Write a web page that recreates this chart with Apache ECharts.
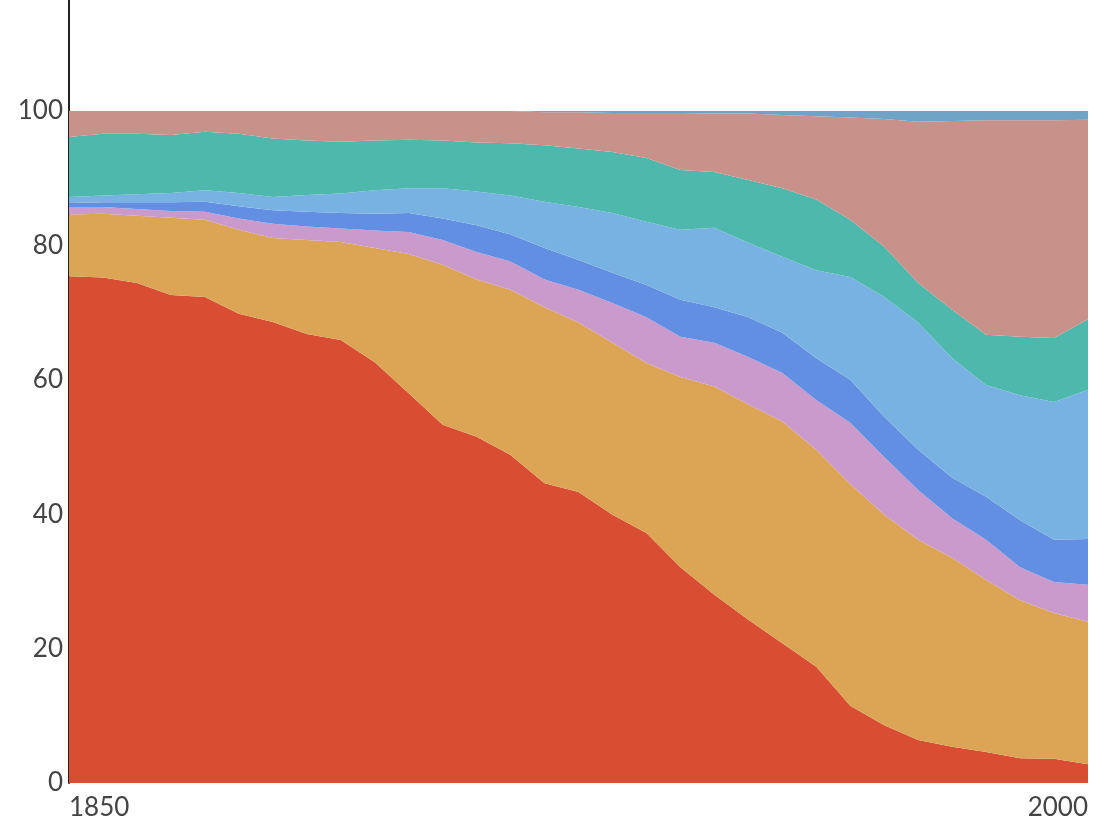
<!DOCTYPE html>
<html>
<head>
<meta charset="utf-8">
<script src="https://cdn.jsdelivr.net/npm/echarts@6/dist/echarts.min.js"></script>
<style>html,body{margin:0;padding:0;background:#fff;}#chart{width:1107px;height:821px;}</style>
</head>
<body>
<div id="chart"></div>
<script>
const years = ['1850','1855','1860','1865','1870','1875','1880','1885','1890','1895','1900','1905','1910','1915','1920','1925','1930','1935','1940','1945','1950','1955','1960','1965','1970','1975','1980','1985','1990','1995','2000'];

const layer1 = [75.4,75.2,74.4,72.6,72.3,69.8,68.6,66.8,65.9,62.6,58.0,53.3,51.5,48.8,44.6,43.3,39.9,37.2,32.1,28.0,24.3,20.8,17.3,11.5,8.6,6.4,5.4,4.6,3.7,3.6,2.8];
const layer2 = [9.2,9.5,10.0,11.5,11.5,12.5,12.5,14.0,14.6,17.0,20.7,23.8,23.4,24.6,26.2,25.2,25.6,25.3,28.3,31.0,32.0,33.0,32.3,33.0,31.3,29.8,28.1,25.6,23.5,21.7,21.2];
const layer3 = [1.1,1.0,1.0,1.0,1.2,1.7,2.1,2.0,2.0,2.6,3.3,3.7,4.1,4.2,4.1,4.9,5.9,6.8,6.0,6.5,7.1,7.2,7.4,9.1,8.6,7.4,5.9,6.0,4.9,4.6,5.5];
const layer4 = [0.6,0.7,1.0,1.3,1.5,1.8,2.0,2.2,2.3,2.5,2.8,3.2,4.0,4.0,4.7,4.4,4.5,4.8,5.5,5.3,5.9,6.0,6.2,6.4,6.0,6.0,6.0,6.4,7.0,6.3,6.8];
const layer5 = [0.9,1.0,1.2,1.4,1.7,2.0,2.0,2.5,2.9,3.5,3.7,4.5,5.0,5.8,6.9,7.9,8.9,9.4,10.4,11.8,11.1,11.3,13.1,15.3,17.8,18.9,17.8,16.6,18.6,20.5,22.2];
const layer6 = [8.9,9.2,9.0,8.6,8.7,8.8,8.7,8.1,7.7,7.4,7.2,7.1,7.3,7.8,8.4,8.7,9.1,9.5,8.9,8.3,9.3,10.2,10.5,8.5,7.5,5.9,7.2,7.5,8.7,9.5,10.5];
const layer7 = [3.9,3.4,3.4,3.6,3.1,3.4,4.1,4.4,4.6,4.4,4.3,4.4,4.7,4.8,4.9,5.4,5.8,6.7,8.5,8.7,9.9,10.9,12.4,15.2,19.0,24.0,28.1,31.9,32.2,32.4,29.7];
const layer8 = [0,0,0,0,0,0,0,0,0,0,0,0,0,0,0.2,0.2,0.3,0.3,0.3,0.4,0.4,0.6,0.8,1.0,1.2,1.6,1.5,1.4,1.4,1.4,1.3];

const layers = [layer1,layer2,layer3,layer4,layer5,layer6,layer7,layer8];
const colors = ['#d94e33','#dca556','#c99acb','#628fe2','#78b2e2','#4fb8ad','#c8918a','#6fa4c6'];

const series = layers.map((arr, i) => ({
  name: 's' + (i + 1),
  type: 'line',
  stack: 'total',
  stackStrategy: 'all',
  symbol: 'none',
  smooth: false,
  lineStyle: { width: 0 },
  areaStyle: { color: colors[i], opacity: 1 },
  itemStyle: { color: colors[i] },
  data: arr
}));

const lastIdx = years.length - 1;
const chart = echarts.init(document.getElementById('chart'));
chart.setOption({
  animation: false,
  grid: { left: 69, right: 19, top: 0, bottom: 38, containLabel: false },
  xAxis: {
    type: 'category', data: years, boundaryGap: false,
    axisLine: { show: false }, axisTick: { show: false }, splitLine: { show: false },
    axisLabel: {
      fontFamily: 'Lato', fontSize: 26, color: '#444', margin: 12,
      interval: (idx) => idx === 0 || idx === lastIdx,
      alignMinLabel: 'left', alignMaxLabel: 'right'
    }
  },
  yAxis: {
    type: 'value', min: 0, max: 116.5, interval: 20,
    axisLine: { show: true, lineStyle: { color: '#222', width: 2 } },
    axisTick: { show: false }, splitLine: { show: false },
    axisLabel: { fontFamily: 'Lato', fontSize: 26, color: '#444', margin: 6, showMaxLabel: false }
  },
  series: series
});
</script>
</body>
</html>
